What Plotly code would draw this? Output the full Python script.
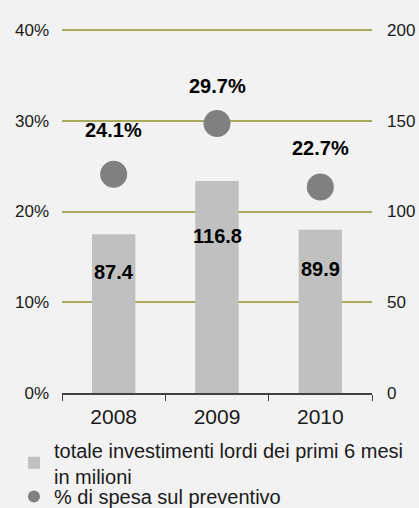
import plotly.graph_objects as go

# Data
years = ['2008', '2009', '2010']
investimenti = [87.4, 116.8, 89.9]          # milioni, right axis
spesa_pct = [0.241, 0.297, 0.227]           # % di spesa sul preventivo, left axis

bar_labels = ['87.4', '116.8', '89.9']
pct_labels = ['24.1%', '29.7%', '22.7%']

BG = '#f2f2f2'
GRID = '#abab5e'
FONT = 'Liberation Sans, Arial, sans-serif'

fig = go.Figure()

fig.add_trace(go.Bar(
    x=years, y=investimenti,
    name='totale investimenti lordi dei primi 6 mesi<br>in milioni',
    marker=dict(color='#c0c0c0', line=dict(width=0)),
    width=0.42,
    yaxis='y2',
    legend='legend',
))

fig.add_trace(go.Scatter(
    x=years, y=spesa_pct,
    name='% di spesa sul preventivo',
    mode='markers',
    marker=dict(color='#808080', size=27, line=dict(width=0)),
    yaxis='y',
    legend='legend2',
))

# annotations on a category axis: use the category index, since '2008' etc.
# would otherwise be read as numeric positions
bar_shift = [-38, -55, -39]
for i, (v, lbl, dy) in enumerate(zip(investimenti, bar_labels, bar_shift)):
    fig.add_annotation(x=i, y=v, xref='x', yref='y2', text=f'<b>{lbl}</b>',
                       showarrow=False, yshift=dy,
                       font=dict(size=20, color='black', family=FONT))

pct_shift = [44, 37, 39]
for i, (v, lbl, dy) in enumerate(zip(spesa_pct, pct_labels, pct_shift)):
    fig.add_annotation(x=i, y=v, xref='x', yref='y', text=f'<b>{lbl}</b>',
                       showarrow=False, yshift=dy,
                       font=dict(size=20, color='black', family=FONT))

# two legends so the entries can sit as tightly as in the original
legend_style = dict(
    xanchor='left', yanchor='top', bgcolor='rgba(0,0,0,0)',
    font=dict(size=20, color='#1a1a1a', family=FONT),
    itemsizing='constant',
)

fig.update_layout(
    width=419, height=508,
    paper_bgcolor=BG, plot_bgcolor=BG,
    margin=dict(l=62, r=47, t=28, b=115, autoexpand=False),
    font=dict(family=FONT, color='#1a1a1a'),
    showlegend=True,
    legend=dict(x=-0.155, y=-0.102, **legend_style),
    legend2=dict(x=-0.155, y=-0.23, **legend_style),
    xaxis=dict(
        type='category', categoryorder='array', categoryarray=years,
        range=[-0.5, len(years) - 0.5],
        showline=True, linecolor='#404040', linewidth=1.5,
        ticks='outside', ticklen=6, tickcolor='#404040',
        tickson='boundaries', tickangle=0, ticklabelstandoff=4,
        tickfont=dict(size=21, color='#1a1a1a'),
        showgrid=False,
    ),
    yaxis=dict(
        range=[0, 0.4022], tickvals=[0, 0.1, 0.2, 0.3, 0.4],
        tickformat='.0%',
        showgrid=True, gridcolor=GRID, gridwidth=1.5,
        zeroline=False, ticks='', ticklabelstandoff=12,
        tickfont=dict(size=17, color='#1a1a1a'),
    ),
    yaxis2=dict(
        range=[0, 201.1], tickvals=[0, 50, 100, 150, 200],
        overlaying='y', side='right',
        showgrid=False, zeroline=False, ticks='', ticklabelstandoff=14,
        tickfont=dict(size=17, color='#1a1a1a'),
    ),
)

fig.write_html('out.html', config={'displayModeBar': False},
               post_script="document.body.style.margin='0';")
